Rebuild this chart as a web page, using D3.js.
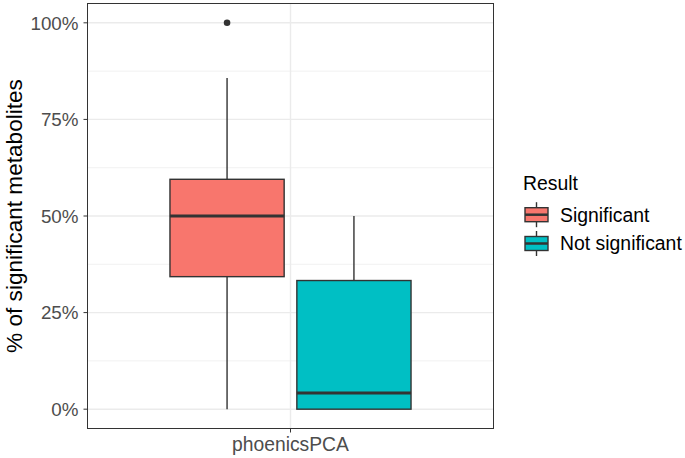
<!DOCTYPE html>
<html>
<head>
<meta charset="utf-8">
<script src="https://cdn.jsdelivr.net/npm/d3@7"></script>
<style>
  body { margin: 0; background: #fff; }
  text { font-family: "Liberation Sans", Arial, sans-serif; }
</style>
</head>
<body>
<svg width="685" height="458"></svg>
<script>
const svg = d3.select("svg");

const margin = { top: 3.5, right: 191.5, bottom: 29.5, left: 87.5 };
const width = 685, height = 458;

// ---- data (boxplot stats, in %) ----
const categories = ["phoenicsPCA"];
const groups = ["Significant", "Not significant"];
const colors = ["#F8766D", "#00BFC4"];
const lowerWhisker = [0, 0];
const q1 = [34.3, 0];
const median = [50, 4.2];
const q3 = [59.5, 33.3];
const upperWhisker = [85.7, 50];
const outliers = [[100], []];
const yTicks = [0, 25, 50, 75, 100];
const yMinor = [12.5, 37.5, 62.5, 87.5];

const boxes = groups.map((g, i) => ({
    category: categories[0], group: g, color: colors[i],
    lo: lowerWhisker[i], q1: q1[i], med: median[i], q3: q3[i], hi: upperWhisker[i],
    out: outliers[i]
}));

const x0 = margin.left, x1 = width - margin.right;
const y0 = height - margin.bottom, y1 = margin.top;

const y = d3.scaleLinear().domain([-5, 105]).range([y0, y1]);

// one discrete category, expanded 0.6 units each side
const xc = d3.scaleLinear().domain([0.4, 1.6]).range([x0, x1]);
const catX = c => xc(categories.indexOf(c) + 1);
const dodge = 0.75 / groups.length;
const boxW = (xc(1 + dodge) - xc(1)) * 0.9;
const boxCenter = (d, i) => xc(1 - 0.75 / 2 + dodge * (i + 0.5));

// ---- panel ----
const panel = svg.append("g");

panel.selectAll(".minor").data(yMinor).join("line")
    .attr("x1", x0).attr("x2", x1)
    .attr("y1", d => y(d)).attr("y2", d => y(d))
    .attr("stroke", "#EBEBEB").attr("stroke-width", 0.7);

panel.selectAll(".major").data(yTicks).join("line")
    .attr("x1", x0).attr("x2", x1)
    .attr("y1", d => y(d)).attr("y2", d => y(d))
    .attr("stroke", "#EBEBEB").attr("stroke-width", 1.4);

panel.selectAll(".vmajor").data(categories).join("line")
    .attr("x1", d => catX(d)).attr("x2", d => catX(d))
    .attr("y1", y0).attr("y2", y1)
    .attr("stroke", "#EBEBEB").attr("stroke-width", 1.4);

// ---- boxes ----
const bx = svg.selectAll(".box").data(boxes).join("g");

bx.append("line")
    .attr("x1", boxCenter).attr("x2", boxCenter)
    .attr("y1", d => y(d.q3)).attr("y2", d => y(d.hi))
    .attr("stroke", "#333333").attr("stroke-width", 1.4);

bx.append("line")
    .attr("x1", boxCenter).attr("x2", boxCenter)
    .attr("y1", d => y(d.q1)).attr("y2", d => y(d.lo))
    .attr("stroke", "#333333").attr("stroke-width", 1.4);

bx.append("rect")
    .attr("x", (d, i) => boxCenter(d, i) - boxW / 2)
    .attr("width", boxW)
    .attr("y", d => y(d.q3))
    .attr("height", d => y(d.q1) - y(d.q3))
    .attr("fill", d => d.color)
    .attr("stroke", "#333333").attr("stroke-width", 1.4);

bx.append("line")
    .attr("x1", (d, i) => boxCenter(d, i) - boxW / 2)
    .attr("x2", (d, i) => boxCenter(d, i) + boxW / 2)
    .attr("y1", d => y(d.med)).attr("y2", d => y(d.med))
    .attr("stroke", "#333333").attr("stroke-width", 3);

bx.each(function (d, i) {
    d3.select(this).selectAll("circle").data(d.out).join("circle")
        .attr("cx", boxCenter(d, i))
        .attr("cy", v => y(v))
        .attr("r", 3.3)
        .attr("fill", "#333333");
});

// ---- border ----
svg.append("rect")
    .attr("x", x0).attr("y", y1)
    .attr("width", x1 - x0).attr("height", y0 - y1)
    .attr("fill", "none").attr("stroke", "#333333").attr("stroke-width", 1);

// ---- axes ----
svg.selectAll(".ytick").data(yTicks).join("line")
    .attr("x1", x0 - 4).attr("x2", x0)
    .attr("y1", d => y(d)).attr("y2", d => y(d))
    .attr("stroke", "#333333").attr("stroke-width", 1);

svg.selectAll(".ylab").data(yTicks).join("text")
    .attr("x", x0 - 9)
    .attr("y", d => y(d))
    .attr("dy", "0.36em")
    .attr("text-anchor", "end")
    .attr("font-size", 18.8)
    .attr("fill", "#4D4D4D")
    .text(d => d + "%");

svg.selectAll(".xtick").data(categories).join("line")
    .attr("x1", d => catX(d)).attr("x2", d => catX(d))
    .attr("y1", y0).attr("y2", y0 + 4)
    .attr("stroke", "#333333").attr("stroke-width", 1);

svg.selectAll(".xlab").data(categories).join("text")
    .attr("x", d => catX(d))
    .attr("y", 451)
    .attr("text-anchor", "middle")
    .attr("font-size", 19.3)
    .attr("fill", "#4D4D4D")
    .text(d => d);

svg.append("text")
    .attr("transform", `translate(22,${(y0 + y1) / 2}) rotate(-90)`)
    .attr("text-anchor", "middle")
    .attr("font-size", 22.6)
    .attr("fill", "#000")
    .text("% of significant metabolites");

// ---- legend ----
const legend = svg.append("g").attr("transform", "translate(523,0)");

legend.append("text")
    .attr("x", 0).attr("y", 190)
    .attr("font-size", 19.4)
    .text("Result");

const keys = legend.selectAll(".key").data(boxes).join("g")
    .attr("transform", (d, i) => `translate(0,${214.7 + i * 28.8})`);

keys.append("line")
    .attr("x1", 13.5).attr("x2", 13.5)
    .attr("y1", -12.5).attr("y2", 12.5)
    .attr("stroke", "#333333").attr("stroke-width", 1.4);

keys.append("rect")
    .attr("x", 2).attr("y", -7)
    .attr("width", 23).attr("height", 14)
    .attr("fill", d => d.color)
    .attr("stroke", "#333333").attr("stroke-width", 1.4);

keys.append("line")
    .attr("x1", 2).attr("x2", 25)
    .attr("y1", 0).attr("y2", 0)
    .attr("stroke", "#333333").attr("stroke-width", 2.5);

keys.append("text")
    .attr("x", 37)
    .attr("y", 0)
    .attr("dy", "0.36em")
    .attr("font-size", 19.4)
    .text(d => d.group);
</script>
</body>
</html>
